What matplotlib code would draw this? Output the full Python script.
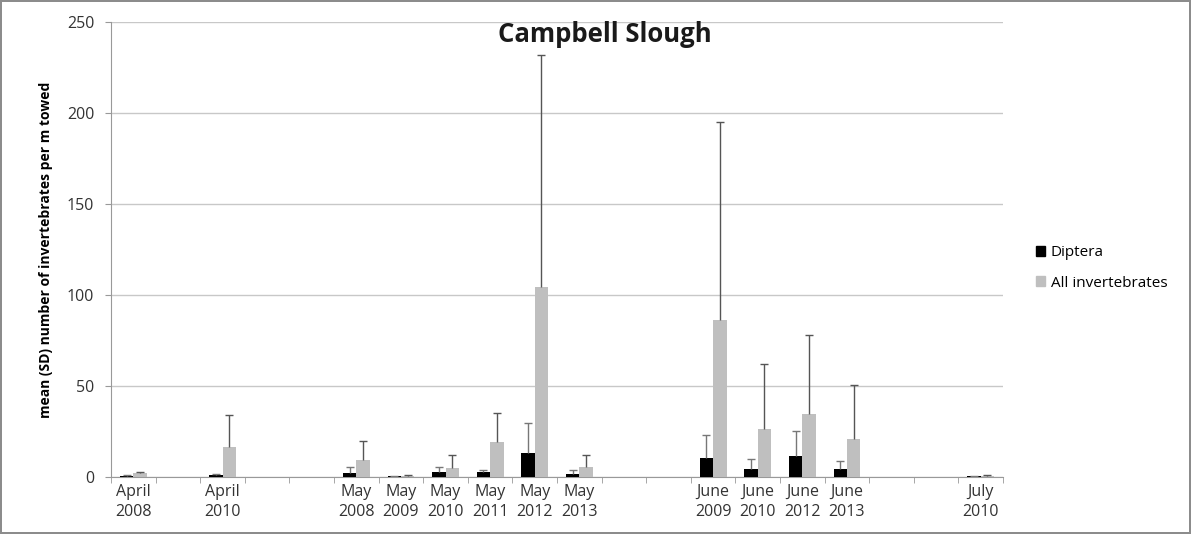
import matplotlib
matplotlib.use("Agg")
import matplotlib.pyplot as plt
from matplotlib.patches import Patch
import numpy as np

nan = np.nan
# blank strings are the empty category slots of the original chart
categories = ["April\n2008", "", "April\n2010", "", "", "May\n2008", "May\n2009",
              "May\n2010", "May\n2011", "May\n2012", "May\n2013", "", "",
              "June\n2009", "June\n2010", "June\n2012", "June\n2013", "", "", "July\n2010"]
diptera_mean = [0.6, nan, 1.0, nan, nan, 2.0, 0.5, 2.5, 2.5, 13.4, 1.8, nan, nan,
                10.3, 4.6, 11.4, 4.2, nan, nan, 0.4]
diptera_sd = [0.3, nan, 0.6, nan, nan, 3.5, 0.3, 3.0, 1.5, 16.4, 2.2, nan, nan,
              12.7, 5.3, 13.9, 4.6, nan, nan, 0.2]
all_mean = [2.0, nan, 16.6, nan, nan, 9.3, 0.6, 4.8, 19.0, 104.4, 5.5, nan, nan,
            86.3, 26.4, 34.4, 20.9, nan, nan, 0.8]
all_sd = [0.5, nan, 17.4, nan, nan, 10.5, 0.3, 7.2, 16.3, 127.5, 6.5, nan, nan,
          109.0, 35.6, 43.7, 29.8, nan, nan, 0.3]

plt.rcParams['font.family'] = ['Open Sans', 'DejaVu Sans']

fig = plt.figure(figsize=(11.91, 5.34), dpi=100)
fig.patch.set_edgecolor('#8c8c8c')
fig.patch.set_linewidth(1.5)
ax = fig.add_axes([0.0932, 0.1067, 0.749, 0.852])

x = np.arange(len(categories))
w = 0.3
d_m = np.array(diptera_mean)
a_m = np.array(all_mean)
d_sd = np.array(diptera_sd)
a_sd = np.array(all_sd)

ax.bar(x - 0.15, d_m, w, color='black', zorder=3)
ax.bar(x + 0.15, a_m, w, color='#bfbfbf', zorder=3)

# plus-only error bars with a cap on top
cap = 0.09
for off, m, sd, col in [(-0.15, d_m, d_sd, '#777777'), (0.15, a_m, a_sd, '#555555')]:
    ok = ~np.isnan(m)
    xs = x[ok] + off
    top = m[ok] + sd[ok]
    ax.vlines(xs, m[ok], top, color=col, linewidth=1, zorder=4)
    ax.hlines(top, xs - cap, xs + cap, color=col, linewidth=1, zorder=4)

ax.set_xlim(-0.5, len(categories) - 0.5)
ax.set_ylim(0, 250)
ax.set_yticks(range(0, 251, 50))
ax.yaxis.grid(True, color='#c8c8c8', linewidth=1)
ax.set_axisbelow(True)

ax.set_xticks(x)
ax.set_xticklabels(categories, fontsize=11.5, color='#333333', linespacing=1.3)
ax.tick_params(axis='x', length=0, pad=5)
ax.set_xticks(np.arange(-0.5, len(categories)), minor=True)
ax.tick_params(axis='x', which='minor', length=4, color='#999999', direction='out')
ax.tick_params(axis='y', length=4, color='#999999', labelsize=11.5,
               labelcolor='#333333', pad=8)

for s in ['top', 'right']:
    ax.spines[s].set_visible(False)
for s in ['left', 'bottom']:
    ax.spines[s].set_color('#999999')

ax.set_ylabel('mean (SD) number of invertebrates per m towed', fontsize=10,
              fontweight='bold', labelpad=10)

fig.text(0.508, 0.935, 'Campbell Slough', ha='center', va='center',
         fontsize=18.5, fontweight='bold', color='#1a1a1a')

handles = [Patch(color='black', label='Diptera'),
           Patch(color='#bfbfbf', label='All invertebrates')]
fig.legend(handles=handles, loc='center left', bbox_to_anchor=(0.858, 0.498),
           frameon=False, fontsize=11, handlelength=0.6, handleheight=0.6,
           handletextpad=0.4, labelspacing=1.0)

fig.savefig('out.png', dpi=100)
